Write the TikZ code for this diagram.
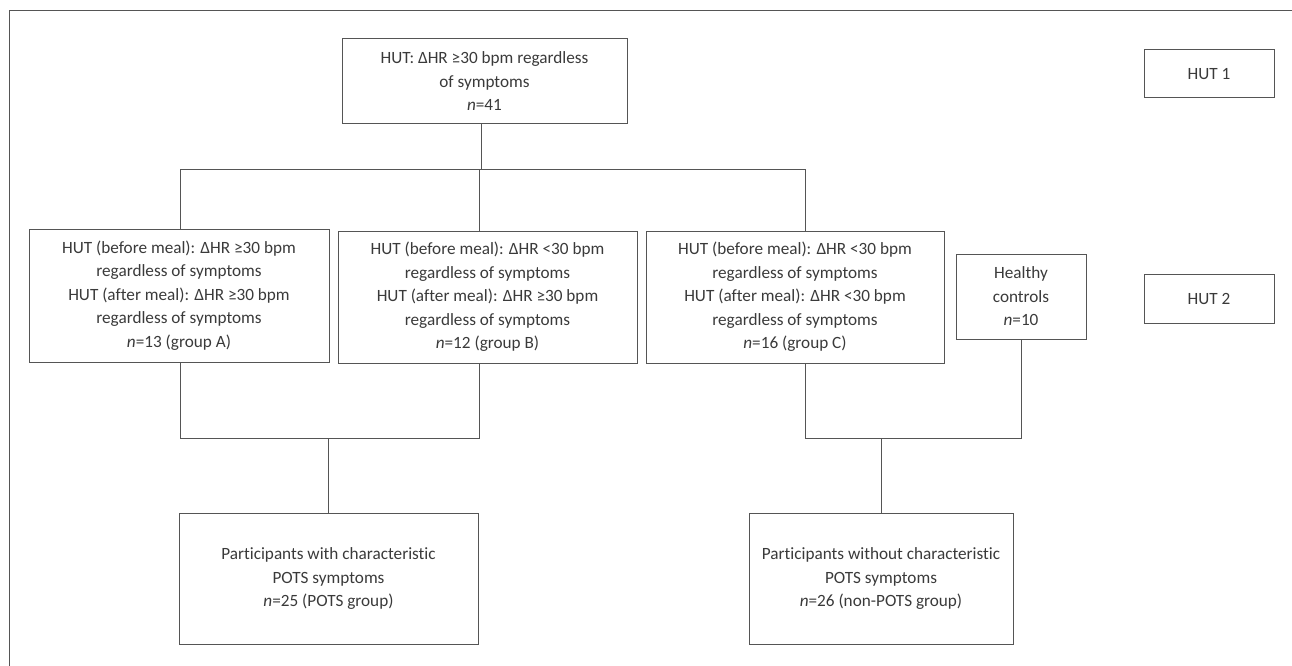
\documentclass[tikz,border=0pt]{standalone}
\usepackage{fontspec}
\setmainfont{Carlito}[Ligatures=NoCommon]
\definecolor{textgrau}{HTML}{3A3A3A}
\definecolor{liniengrau}{HTML}{555555}
\tikzset{
    kasten/.style={draw=liniengrau, line width=1pt, align=center, inner sep=0pt,
        text=textgrau, font=\fontsize{17.2}{23.5}\selectfont},
    linie/.style={draw=liniengrau, line width=1pt}
}
\begin{document}
\begin{tikzpicture}[x=1pt, y=-1pt]
            \useasboundingbox (0, 0) rectangle (1292, 666);
            % Rahmen
            \draw[linie] (1292, 10.5) -- (9, 10.5) -- (9, 666);

            % Kästen
            \node[kasten, minimum width=285, minimum height=85] (hut) at (484.5, 81.5)
                {HUT: ΔHR ≥30 bpm regardless\\of symptoms\\\textit{n}=41};
            \node[kasten, minimum width=130, minimum height=48] (hutEins) at (1209, 74) {HUT 1};
            \node[kasten, minimum width=130, minimum height=49] (hutZwei) at (1209, 298.5) {HUT 2};
            \node[kasten, minimum width=300, minimum height=133] (grpA) at (179, 295.5)
                {HUT (before meal): ΔHR ≥30 bpm\\regardless of symptoms\\HUT (after meal): ΔHR ≥30 bpm\\regardless of symptoms\\\textit{n}=13 (group A)};
            \node[kasten, minimum width=299, minimum height=132] (grpB) at (487.5, 297)
                {HUT (before meal): ΔHR <30 bpm\\regardless of symptoms\\HUT (after meal): ΔHR ≥30 bpm\\regardless of symptoms\\\textit{n}=12 (group B)};
            \node[kasten, minimum width=298, minimum height=132] (grpC) at (795, 297)
                {HUT (before meal): ΔHR <30 bpm\\regardless of symptoms\\HUT (after meal): ΔHR <30 bpm\\regardless of symptoms\\\textit{n}=16 (group C)};
            \node[kasten, minimum width=130, minimum height=85] (gesund) at (1021, 296.5)
                {Healthy\\controls\\\textit{n}=10};
            \node[kasten, minimum width=299, minimum height=131] (pots) at (328.5, 578.5)
                {Participants with characteristic\\POTS symptoms\\\textit{n}=25 (POTS group)};
            \node[kasten, minimum width=264, minimum height=131] (nonpots) at (881, 578.5)
                {Participants without characteristic\\POTS symptoms\\\textit{n}=26 (non-POTS group)};

            % Verbindungen
            \coordinate (schieneOben) at (0, 169);
            \coordinate (schieneUnten) at (0, 438);
            \draw[linie] ([xshift=-3.5pt]hut.south) -- ([xshift=-3.5pt]hut.south |- schieneOben);
            \draw[linie] ([xshift=1pt]grpA.north) |- ([xshift=10pt]grpC.north |- schieneOben) -- ([xshift=10pt]grpC.north);
            \draw[linie] ([xshift=-8.5pt]grpB.north) -- ([xshift=-8.5pt]grpB.north |- schieneOben);
            \draw[linie] ([xshift=1pt]grpA.south) |- ([xshift=-8.5pt]grpB.south |- schieneUnten) -- ([xshift=-8.5pt]grpB.south);
            \draw[linie] (pots.north) -- (pots.north |- schieneUnten);
            \draw[linie] ([xshift=10pt]grpC.south) |- (gesund.south |- schieneUnten) -- (gesund.south);
            \draw[linie] (nonpots.north) -- (nonpots.north |- schieneUnten);
        \end{tikzpicture}
\end{document}
